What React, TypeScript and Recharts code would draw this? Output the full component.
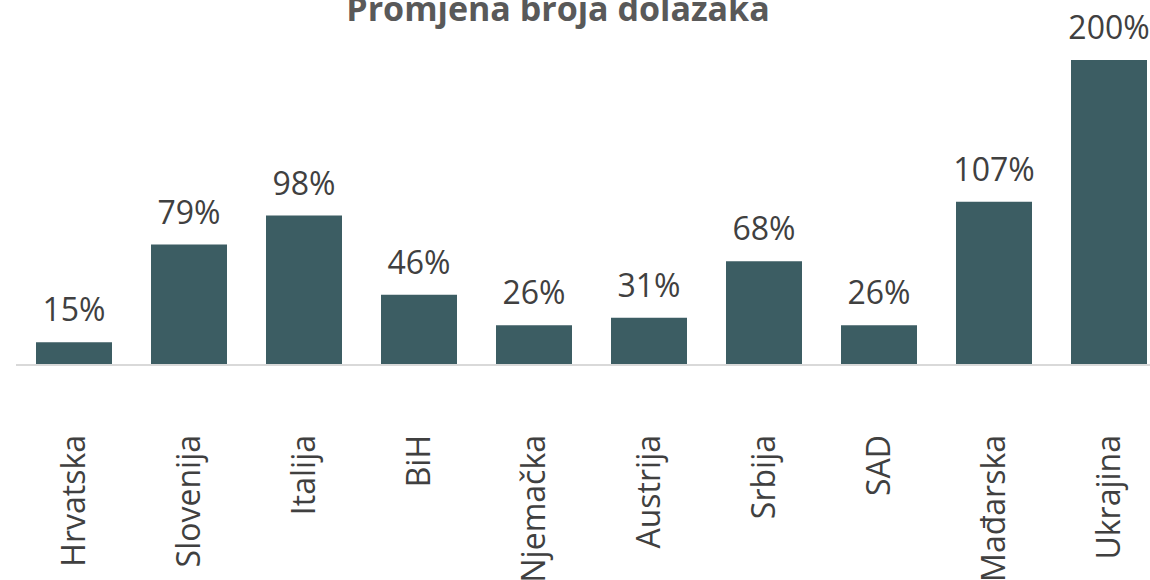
import { BarChart, Bar, XAxis, YAxis, LabelList } from "recharts"

const COUNTRIES = [
  "Hrvatska", "Slovenija", "Italija", "BiH", "Njemačka",
  "Austrija", "Srbija", "SAD", "Mađarska", "Ukrajina",
]
const CHANGE = [15, 79, 98, 46, 26, 31, 68, 26, 107, 200]

const FONT = "'Open Sans', 'DejaVu Sans', sans-serif"

const data = COUNTRIES.map((name, i) => ({ name, value: CHANGE[i] }))

function CountryTick({ x, y, payload }: any) {
  const ty = y + 62
  return (
    <text
      x={x}
      y={ty}
      dy="0.36em"
      transform={`rotate(-90, ${x}, ${ty})`}
      textAnchor="end"
      fill="#404040"
      fontSize={32}
      fontFamily={FONT}
    >
      {payload.value}
    </text>
  )
}

export default function App() {
  return (
    <div style={{ position: "absolute", left: 0, top: 0, width: 1150, height: 580, overflow: "hidden", background: "#fff" }}>
      <BarChart
        width={1180}
        height={580}
        data={data}
        margin={{ top: 60, right: 14, left: 16, bottom: 0 }}
        barSize={76}
      >
        <text x={558} y={21} textAnchor="middle" fill="#595959" fontSize={34} fontWeight="bold" fontFamily={FONT}>
          Promjena broja dolazaka
        </text>
        <YAxis hide domain={[0, 200]} />
        <XAxis
          dataKey="name"
          height={215}
          interval={0}
          tickLine={false}
          axisLine={{ stroke: "#d9d9d9", strokeWidth: 2 }}
          tick={<CountryTick />}
        />
        <Bar dataKey="value" fill="#3c5d63" isAnimationActive={false}>
          <LabelList
            dataKey="value"
            position="top"
            offset={21}
            formatter={(v: any) => `${v}%`}
            fill="#404040"
            fontSize={32}
            fontFamily={FONT}
          />
        </Bar>
      </BarChart>
    </div>
  )
}
